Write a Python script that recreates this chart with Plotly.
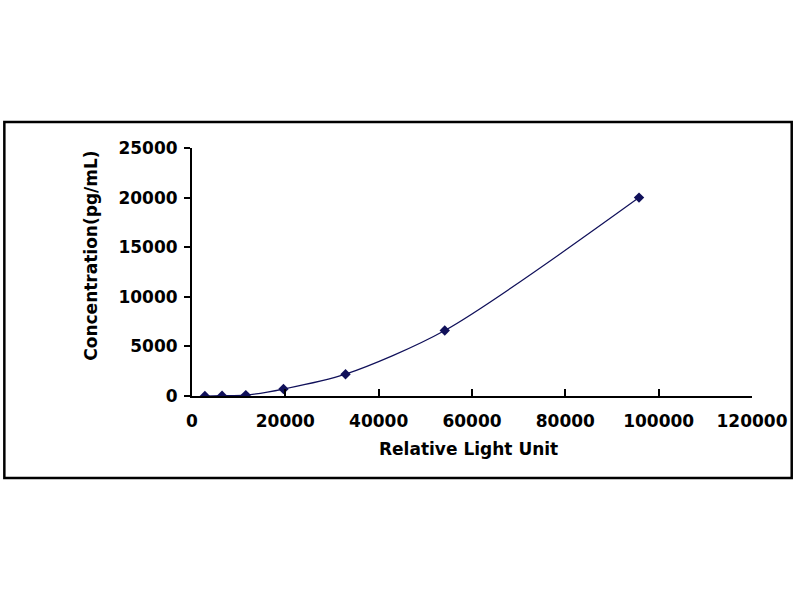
import plotly.graph_objects as go

# standard curve points
rlu = [2760, 6440, 11530, 19600, 32900, 54160, 95790]
conc = [0, 30, 90, 700, 2200, 6600, 20000]

x_ticks = [0, 20000, 40000, 60000, 80000, 100000, 120000]
y_ticks = [0, 5000, 10000, 15000, 20000, 25000]

navy = "#10105a"
font_main = "DejaVu Sans"

# plot area in pixels (800x600 page)
L, R, T, B = 192, 756, 148, 396
W, H = R - L, B - T


def px(x):
    return (x - L) / W


def py(y):
    return (B - y) / H


fig = go.Figure()
fig.add_trace(go.Scatter(
    x=rlu, y=conc,
    mode="lines+markers",
    line=dict(color=navy, width=1.2, shape="spline", smoothing=0.8),
    marker=dict(symbol="diamond", size=8, color=navy),
    showlegend=False,
))

fig.update_layout(
    width=800, height=600,
    margin=dict(l=L, r=800 - R, t=T, b=600 - B),
    paper_bgcolor="white",
    plot_bgcolor="white",
    font=dict(family=font_main, color="black", size=17),
    xaxis=dict(
        range=[0, 120000], tickvals=x_ticks,
        ticktext=[str(v) for v in x_ticks],
        showgrid=False, zeroline=False,
        showline=True, linecolor="black", linewidth=2,
        ticks="inside", ticklen=7, tickwidth=2, tickcolor="black",
        tickfont=dict(family=font_main, size=17, weight="bold"),
        ticklabelstandoff=9,
    ),
    yaxis=dict(
        range=[0, 25000], tickvals=y_ticks,
        ticktext=[str(v) for v in y_ticks],
        showgrid=False, zeroline=False,
        showline=True, linecolor="black", linewidth=2,
        ticks="outside", ticklen=6, tickwidth=2, tickcolor="black",
        tickfont=dict(family=font_main, size=17, weight="bold"),
        ticklabelstandoff=3,
    ),
    shapes=[dict(
        type="rect", xref="paper", yref="paper",
        x0=px(3), x1=px(796), y0=py(478), y1=py(122),
        line=dict(color="black", width=2.5),
    )],
    annotations=[
        dict(text="<b>Relative Light Unit</b>", xref="paper", yref="paper",
             x=px(470), y=py(449), xanchor="center", yanchor="middle",
             showarrow=False, font=dict(family=font_main, size=17)),
        dict(text="<b>Concentration(pg/mL)</b>", xref="paper", yref="paper",
             x=px(90), y=py(256), xanchor="center", yanchor="middle",
             showarrow=False, textangle=-90,
             font=dict(family=font_main, size=17)),
    ],
)

# drop the default 8px page margin so the figure sits at the window origin
fig.write_html("out.html", config={"displayModeBar": False},
               post_script="document.body.style.margin='0px';")
